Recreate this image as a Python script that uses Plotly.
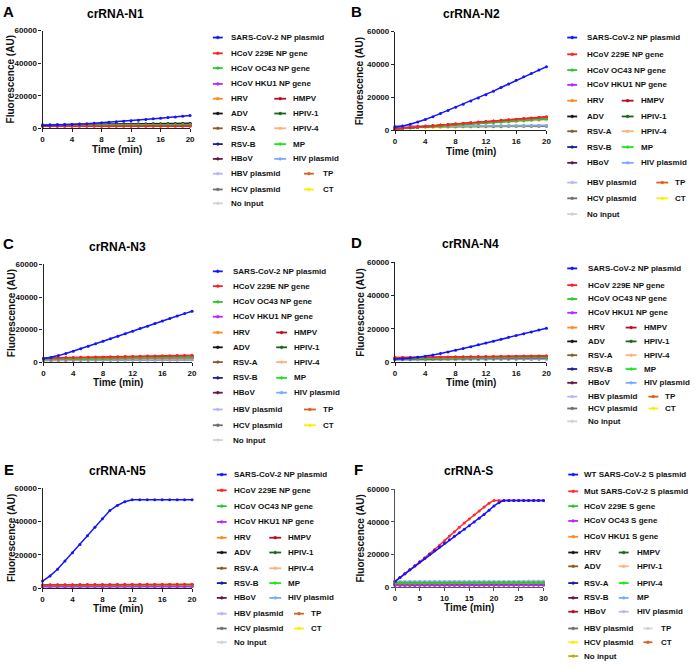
import plotly.graph_objects as go

W, H = 696, 668

TIME_20 = list(range(21))
TIME_30 = list(range(31))

NAMES_N = ["SARS-CoV-2 NP plasmid", "HCoV 229E NP gene", "HCoV OC43 NP gene", "HCoV HKU1 NP gene",
           "HRV", "HMPV", "ADV", "HPIV-1", "RSV-A", "HPIV-4", "RSV-B", "MP", "HBoV", "HIV plasmid",
           "HBV plasmid", "TP", "HCV plasmid", "CT", "No input"]
COLORS_N = ["#1414ff", "#ff1f1f", "#2fc62f", "#b42cff", "#ff8a1e", "#b01020", "#151515", "#1b641b",
            "#8c5a28", "#ffb07a", "#20208a", "#1ee61e", "#641846", "#78aaff", "#b4b4ff", "#d2641e",
            "#6e6e6e", "#ffec00", "#d2d2d2"]
NAMES_S = ["WT SARS-CoV-2 S plasmid", "Mut SARS-CoV-2 S plasmid", "HCoV 229E S gene", "HCoV OC43 S gene",
           "HCoV HKU1 S gene", "HRV", "HMPV", "ADV", "HPIV-1", "RSV-A", "HPIV-4", "RSV-B", "MP", "HBoV",
           "HIV plasmid", "HBV plasmid", "TP", "HCV plasmid", "CT", "No input"]
COLORS_S = ["#1414ff", "#ff2a2a", "#2fc62f", "#b42cff", "#ff8a1e", "#151515", "#1b641b", "#8c5a28",
            "#ffb07a", "#20208a", "#1ee61e", "#641846", "#78aaff", "#b01020", "#b4b4ff", "#6e6e6e",
            "#d2d2d2", "#ffec00", "#d2641e", "#b4b400"]

TICKS_20 = [0, 4, 8, 12, 16, 20]
TICKS_30 = [0, 5, 10, 15, 20, 25, 30]
Y_TICKS = [0, 20000, 40000, 60000]

# ---------------- Panel A: crRNA-N1 ----------------
A_SARS = [1800,1900,2000,2200,2400,2600,2800,3100,3400,3700,4000,4300,4700,5000,5400,5800,6200,6600,7000,7400,7900]
A_229E = [1200,1200,1200,1210,1210,1220,1220,1230,1230,1240,1240,1250,1250,1260,1260,1270,1270,1280,1280,1290,1300]
A_OC43 = [1800,1820,1850,1870,1900,1920,1950,1970,2000,2020,2050,2070,2100,2120,2150,2170,2200,2220,2250,2270,2300]
A_HKU1 = [1500,1510,1520,1530,1540,1550,1560,1570,1580,1590,1600,1610,1620,1630,1640,1650,1660,1670,1680,1690,1700]
A_HRV = [1700,1720,1730,1750,1760,1780,1790,1810,1820,1840,1850,1870,1880,1900,1910,1930,1940,1960,1970,1990,2000]
A_HMPV = [1600,1630,1660,1690,1720,1750,1780,1810,1840,1870,1900,1930,1960,1990,2020,2050,2080,2110,2140,2170,2200]
A_ADV = [2000,2050,2090,2140,2180,2230,2270,2320,2360,2410,2450,2500,2540,2590,2630,2680,2720,2770,2810,2860,2900]
A_HPIV1 = [1800,1840,1870,1910,1940,1980,2010,2050,2080,2120,2150,2190,2220,2260,2290,2330,2360,2400,2430,2470,2500]
A_RSVA = [1700,1730,1760,1790,1820,1850,1880,1910,1940,1970,2000,2030,2060,2090,2120,2150,2180,2210,2240,2270,2300]
A_HPIV4 = [1600,1620,1630,1650,1660,1680,1690,1710,1720,1740,1750,1770,1780,1800,1810,1830,1840,1860,1870,1890,1900]
A_RSVB = [1900,1940,1970,2010,2040,2080,2110,2150,2180,2220,2250,2290,2320,2360,2390,2430,2460,2500,2530,2570,2600]
A_MP = [1700,1730,1750,1780,1800,1830,1850,1880,1900,1930,1950,1980,2000,2030,2050,2080,2100,2130,2150,2180,2200]
A_HBOV = [1500,1530,1550,1580,1600,1630,1650,1680,1700,1730,1750,1780,1800,1830,1850,1880,1900,1930,1950,1980,2000]
A_HIV = [2000,2030,2060,2090,2120,2150,2180,2210,2240,2270,2300,2330,2360,2390,2420,2450,2480,2510,2540,2570,2600]
A_HBV = [2100,2140,2170,2210,2240,2280,2310,2350,2380,2420,2450,2490,2520,2560,2590,2630,2660,2700,2730,2770,2800]
A_TP = [1600,1630,1650,1680,1700,1730,1750,1780,1800,1830,1850,1880,1900,1930,1950,1980,2000,2030,2050,2080,2100]
A_HCV = [2200,2250,2290,2340,2380,2430,2470,2520,2560,2610,2650,2700,2740,2790,2830,2880,2920,2970,3010,3060,3100]
A_CT = [1400,1420,1430,1450,1460,1480,1490,1510,1520,1540,1550,1570,1580,1600,1610,1630,1640,1660,1670,1690,1700]
A_NI = [1300,1310,1320,1330,1340,1350,1360,1370,1380,1390,1400,1410,1420,1430,1440,1450,1460,1470,1480,1490,1500]

# ---------------- Panel B: crRNA-N2 ----------------
B_SARS = [2000,2600,3700,5000,6600,8300,10200,12100,14000,15900,17800,19700,21600,23800,26000,28200,30400,32500,34600,36600,38600]
B_229E = [1000,1360,1720,2080,2440,2800,3160,3520,3880,4240,4600,4960,5320,5680,6040,6400,6760,7120,7480,7840,8200]
B_OC43 = [1000,1300,1600,1900,2200,2500,2800,3100,3400,3700,4000,4300,4600,4900,5200,5500,5800,6100,6400,6700,7000]
B_HKU1 = [1000,1330,1660,1990,2320,2650,2980,3310,3640,3970,4300,4630,4960,5290,5620,5950,6280,6610,6940,7270,7600]
B_HRV = [1100,1430,1770,2100,2440,2770,3110,3440,3780,4110,4450,4780,5120,5450,5790,6120,6460,6790,7130,7460,7800]
B_HMPV = [1000,1350,1700,2050,2400,2750,3100,3450,3800,4150,4500,4850,5200,5550,5900,6250,6600,6950,7300,7650,8000]
B_ADV = [1000,1340,1680,2020,2360,2700,3040,3380,3720,4060,4400,4740,5080,5420,5760,6100,6440,6780,7120,7460,7800]
B_HPIV1 = [1000,1310,1620,1930,2240,2550,2860,3170,3480,3790,4100,4410,4720,5030,5340,5650,5960,6270,6580,6890,7200]
B_RSVA = [1100,1400,1700,2000,2300,2600,2900,3200,3500,3800,4100,4400,4700,5000,5300,5600,5900,6200,6500,6800,7100]
B_HPIV4 = [1200,1460,1720,1980,2240,2500,2760,3020,3280,3540,3800,4060,4320,4580,4840,5100,5360,5620,5880,6140,6400]
B_RSVB = [900,1230,1560,1890,2220,2550,2880,3210,3540,3870,4200,4530,4860,5190,5520,5850,6180,6510,6840,7170,7500]
B_MP = [1000,1290,1580,1870,2160,2450,2740,3030,3320,3610,3900,4190,4480,4770,5060,5350,5640,5930,6220,6510,6800]
B_HBOV = [1000,1320,1640,1960,2280,2600,2920,3240,3560,3880,4200,4520,4840,5160,5480,5800,6120,6440,6760,7080,7400]
B_HIV = [2400,2430,2450,2480,2500,2530,2550,2580,2600,2630,2650,2680,2700,2730,2750,2780,2800,2830,2850,2880,2900]
B_HBV = [2600,2630,2650,2680,2700,2730,2750,2780,2800,2830,2850,2880,2900,2930,2950,2980,3000,3030,3050,3080,3100]
B_TP = [1200,1490,1780,2070,2360,2650,2940,3230,3520,3810,4100,4390,4680,4970,5260,5550,5840,6130,6420,6710,7000]
B_HCV = [2000,2030,2050,2080,2100,2130,2150,2180,2200,2230,2250,2280,2300,2330,2350,2380,2400,2430,2450,2480,2500]
B_CT = [1500,1540,1580,1620,1660,1700,1740,1780,1820,1860,1900,1940,1980,2020,2060,2100,2140,2180,2220,2260,2300]
B_NI = [2200,2220,2240,2260,2280,2300,2320,2340,2360,2380,2400,2420,2440,2460,2480,2500,2520,2540,2560,2580,2600]

# ---------------- Panel C: crRNA-N3 ----------------
C_SARS = [2000,2800,4000,5300,6700,8200,9700,11300,12800,14400,15900,17400,19000,20600,22100,23700,25300,26800,28300,29800,31200]
C_229E = [2500,2590,2670,2760,2840,2930,3010,3100,3180,3270,3350,3440,3520,3610,3690,3780,3860,3950,4030,4120,4200]
C_OC43 = [1800,1880,1950,2030,2100,2180,2250,2330,2400,2480,2550,2630,2700,2780,2850,2930,3000,3080,3150,3230,3300]
C_HKU1 = [1900,1970,2030,2100,2160,2230,2290,2360,2420,2490,2550,2620,2680,2750,2810,2880,2940,3010,3070,3140,3200]
C_HRV = [1700,1760,1810,1870,1920,1980,2030,2090,2140,2200,2250,2310,2360,2420,2470,2530,2580,2640,2690,2750,2800]
C_HMPV = [2200,2280,2360,2440,2520,2600,2680,2760,2840,2920,3000,3080,3160,3240,3320,3400,3480,3560,3640,3720,3800]
C_ADV = [2000,2080,2150,2230,2300,2380,2450,2530,2600,2680,2750,2830,2900,2980,3050,3130,3200,3280,3350,3430,3500]
C_HPIV1 = [1900,1980,2050,2130,2200,2280,2350,2430,2500,2580,2650,2730,2800,2880,2950,3030,3100,3180,3250,3330,3400]
C_RSVA = [1600,1650,1700,1750,1800,1850,1900,1950,2000,2050,2100,2150,2200,2250,2300,2350,2400,2450,2500,2550,2600]
C_HPIV4 = [1500,1550,1590,1640,1680,1730,1770,1820,1860,1910,1950,2000,2040,2090,2130,2180,2220,2270,2310,2360,2400]
C_RSVB = [1800,1870,1930,2000,2060,2130,2190,2260,2320,2390,2450,2520,2580,2650,2710,2780,2840,2910,2970,3040,3100]
C_MP = [1900,1970,2040,2110,2180,2250,2320,2390,2460,2530,2600,2670,2740,2810,2880,2950,3020,3090,3160,3230,3300]
C_HBOV = [1700,1760,1820,1880,1940,2000,2060,2120,2180,2240,2300,2360,2420,2480,2540,2600,2660,2720,2780,2840,2900]
C_HIV = [1200,1220,1240,1260,1280,1300,1320,1340,1360,1380,1400,1420,1440,1460,1480,1500,1520,1540,1560,1580,1600]
C_HBV = [1300,1320,1340,1360,1380,1400,1420,1440,1460,1480,1500,1520,1540,1560,1580,1600,1620,1640,1660,1680,1700]
C_TP = [1600,1650,1690,1740,1780,1830,1870,1920,1960,2010,2050,2100,2140,2190,2230,2280,2320,2370,2410,2460,2500]
C_HCV = [1000,1020,1040,1060,1080,1100,1120,1140,1160,1180,1200,1220,1240,1260,1280,1300,1320,1340,1360,1380,1400]
C_CT = [1400,1430,1460,1490,1520,1550,1580,1610,1640,1670,1700,1730,1760,1790,1820,1850,1880,1910,1940,1970,2000]
C_NI = [1100,1120,1140,1160,1180,1200,1220,1240,1260,1280,1300,1320,1340,1360,1380,1400,1420,1440,1460,1480,1500]

# ---------------- Panel D: crRNA-N4 ----------------
D_SARS = [1800,2000,2400,2900,3500,4300,5200,6100,7100,8200,9300,10400,11500,12600,13700,14900,16000,17100,18200,19300,20400]
D_229E = [2800,2850,2900,2950,3000,3050,3100,3150,3200,3250,3300,3350,3400,3450,3500,3550,3600,3650,3700,3750,3800]
D_OC43 = [2000,2050,2100,2150,2200,2250,2300,2350,2400,2450,2500,2550,2600,2650,2700,2750,2800,2850,2900,2950,3000]
D_HKU1 = [2100,2140,2180,2220,2260,2300,2340,2380,2420,2460,2500,2540,2580,2620,2660,2700,2740,2780,2820,2860,2900]
D_HRV = [2200,2240,2280,2320,2360,2400,2440,2480,2520,2560,2600,2640,2680,2720,2760,2800,2840,2880,2920,2960,3000]
D_HMPV = [2600,2650,2700,2750,2800,2850,2900,2950,3000,3050,3100,3150,3200,3250,3300,3350,3400,3450,3500,3550,3600]
D_ADV = [1950,2000,2050,2100,2150,2200,2250,2300,2350,2400,2450,2500,2550,2600,2650,2700,2750,2800,2850,2900,2950]
D_HPIV1 = [2100,2150,2200,2250,2300,2350,2400,2450,2500,2550,2600,2650,2700,2750,2800,2850,2900,2950,3000,3050,3100]
D_RSVA = [1900,1940,1980,2020,2060,2100,2140,2180,2220,2260,2300,2340,2380,2420,2460,2500,2540,2580,2620,2660,2700]
D_HPIV4 = [1800,1840,1880,1920,1960,2000,2040,2080,2120,2160,2200,2240,2280,2320,2360,2400,2440,2480,2520,2560,2600]
D_RSVB = [2000,2040,2080,2120,2160,2200,2240,2280,2320,2360,2400,2440,2480,2520,2560,2600,2640,2680,2720,2760,2800]
D_MP = [2100,2150,2190,2240,2280,2330,2370,2420,2460,2510,2550,2600,2640,2690,2730,2780,2820,2870,2910,2960,3000]
D_HBOV = [1850,1890,1930,1970,2010,2050,2090,2130,2170,2210,2250,2290,2330,2370,2410,2450,2490,2530,2570,2610,2650]
D_HIV = [1500,1520,1540,1560,1580,1600,1620,1640,1660,1680,1700,1720,1740,1760,1780,1800,1820,1840,1860,1880,1900]
D_HBV = [1600,1620,1640,1660,1680,1700,1720,1740,1760,1780,1800,1820,1840,1860,1880,1900,1920,1940,1960,1980,2000]
D_TP = [2050,2090,2130,2170,2210,2250,2290,2330,2370,2410,2450,2490,2530,2570,2610,2650,2690,2730,2770,2810,2850]
D_HCV = [1400,1420,1440,1460,1480,1500,1520,1540,1560,1580,1600,1620,1640,1660,1680,1700,1720,1740,1760,1780,1800]
D_CT = [1800,1830,1860,1890,1920,1950,1980,2010,2040,2070,2100,2130,2160,2190,2220,2250,2280,2310,2340,2370,2400]
D_NI = [1550,1570,1590,1610,1630,1650,1670,1690,1710,1730,1750,1770,1790,1810,1830,1850,1870,1890,1910,1930,1950]

# ---------------- Panel E: crRNA-N5 ----------------
E_SARS = [4200,7300,11300,16300,21300,26200,31400,36600,41700,46700,49700,52000,53200,53200,53200,53200,53200,53200,53200,53200,53200]
E_229E = [2000,2010,2020,2030,2040,2050,2060,2070,2080,2090,2100,2110,2120,2130,2140,2150,2160,2170,2180,2190,2200]
E_OC43 = [1600,1610,1620,1630,1640,1650,1660,1670,1680,1690,1700,1710,1720,1730,1740,1750,1760,1770,1780,1790,1800]
E_HKU1 = [700,705,710,715,720,725,730,735,740,745,750,755,760,765,770,775,780,785,790,795,800]
E_HRV = [1500,1510,1520,1530,1540,1550,1560,1570,1580,1590,1600,1610,1620,1630,1640,1650,1660,1670,1680,1690,1700]
E_HMPV = [1800,1810,1820,1830,1840,1850,1860,1870,1880,1890,1900,1910,1920,1930,1940,1950,1960,1970,1980,1990,2000]
E_ADV = [1550,1560,1570,1580,1590,1600,1610,1620,1630,1640,1650,1660,1670,1680,1690,1700,1710,1720,1730,1740,1750]
E_HPIV1 = [1400,1410,1420,1430,1440,1450,1460,1470,1480,1490,1500,1510,1520,1530,1540,1550,1560,1570,1580,1590,1600]
E_RSVA = [1300,1310,1320,1330,1340,1350,1360,1370,1380,1390,1400,1410,1420,1430,1440,1450,1460,1470,1480,1490,1500]
E_HPIV4 = [1200,1210,1220,1230,1240,1250,1260,1270,1280,1290,1300,1310,1320,1330,1340,1350,1360,1370,1380,1390,1400]
E_RSVB = [1650,1660,1670,1680,1690,1700,1710,1720,1730,1740,1750,1760,1770,1780,1790,1800,1810,1820,1830,1840,1850]
E_MP = [1450,1460,1470,1480,1490,1500,1510,1520,1530,1540,1550,1560,1570,1580,1590,1600,1610,1620,1630,1640,1650]
E_HBOV = [1100,1110,1120,1130,1140,1150,1160,1170,1180,1190,1200,1210,1220,1230,1240,1250,1260,1270,1280,1290,1300]
E_HIV = [1000,1010,1020,1030,1040,1050,1060,1070,1080,1090,1100,1110,1120,1130,1140,1150,1160,1170,1180,1190,1200]
E_HBV = [1050,1060,1070,1080,1090,1100,1110,1120,1130,1140,1150,1160,1170,1180,1190,1200,1210,1220,1230,1240,1250]
E_TP = [1350,1360,1370,1380,1390,1400,1410,1420,1430,1440,1450,1460,1470,1480,1490,1500,1510,1520,1530,1540,1550]
E_HCV = [1250,1260,1270,1280,1290,1300,1310,1320,1330,1340,1350,1360,1370,1380,1390,1400,1410,1420,1430,1440,1450]
E_CT = [1150,1160,1170,1180,1190,1200,1210,1220,1230,1240,1250,1260,1270,1280,1290,1300,1310,1320,1330,1340,1350]
E_NI = [900,910,920,930,940,950,960,970,980,990,1000,1010,1020,1030,1040,1050,1060,1070,1080,1090,1100]

# ---------------- Panel F: crRNA-S ----------------
F_WT = [3500,5800,8200,10600,13000,15400,17700,20000,22300,24600,26900,29000,31200,33300,35500,37700,39900,42200,44600,47200,49800,51800,53200,53200,53200,53200,53200,53200,53200,53200,53200]
F_MUT = [3500,5800,8200,10600,13100,15500,17900,20400,23000,25700,28500,31300,34000,36700,39300,41800,44300,46700,49200,51500,53200,53200,53200,53200,53200,53200,53200,53200,53200,53200,53200]
F_229E = [2500,2510,2510,2520,2520,2530,2530,2540,2540,2550,2550,2560,2560,2570,2570,2580,2580,2590,2590,2600,2600,2610,2610,2620,2620,2630,2630,2640,2640,2650,2650]
F_OC43 = [1000,1010,1010,1020,1020,1030,1030,1040,1040,1050,1050,1060,1060,1070,1070,1080,1080,1090,1090,1100,1100,1110,1110,1120,1120,1130,1130,1140,1140,1150,1150]
F_HKU1 = [2000,2010,2010,2020,2020,2030,2030,2040,2040,2050,2050,2060,2060,2070,2070,2080,2080,2090,2090,2100,2100,2110,2110,2120,2120,2130,2130,2140,2140,2150,2150]
F_HRV = [1800,1810,1810,1820,1820,1830,1830,1840,1840,1850,1850,1860,1860,1870,1870,1880,1880,1890,1890,1900,1900,1910,1910,1920,1920,1930,1930,1940,1940,1950,1950]
F_HMPV = [2300,2310,2310,2320,2320,2330,2330,2340,2340,2350,2350,2360,2360,2370,2370,2380,2380,2390,2390,2400,2400,2410,2410,2420,2420,2430,2430,2440,2440,2450,2450]
F_ADV = [1850,1860,1860,1870,1870,1880,1880,1890,1890,1900,1900,1910,1910,1920,1920,1930,1930,1940,1940,1950,1950,1960,1960,1970,1970,1980,1980,1990,1990,2000,2000]
F_HPIV1 = [2050,2060,2060,2070,2070,2080,2080,2090,2090,2100,2100,2110,2110,2120,2120,2130,2130,2140,2140,2150,2150,2160,2160,2170,2170,2180,2180,2190,2190,2200,2200]
F_RSVA = [2100,2110,2110,2120,2120,2130,2130,2140,2140,2150,2150,2160,2160,2170,2170,2180,2180,2190,2190,2200,2200,2210,2210,2220,2220,2230,2230,2240,2240,2250,2250]
F_HPIV4 = [2600,2610,2610,2620,2620,2630,2630,2640,2640,2650,2650,2660,2660,2670,2670,2680,2680,2690,2690,2700,2700,2710,2710,2720,2720,2730,2730,2740,2740,2750,2750]
F_RSVB = [1200,1210,1210,1220,1220,1230,1230,1240,1240,1250,1250,1260,1260,1270,1270,1280,1280,1290,1290,1300,1300,1310,1310,1320,1320,1330,1330,1340,1340,1350,1350]
F_MP = [3000,3010,3010,3020,3020,3030,3030,3040,3040,3050,3050,3060,3060,3070,3070,3080,3080,3090,3090,3100,3100,3110,3110,3120,3120,3130,3130,3140,3140,3150,3150]
F_HBOV = [1500,1510,1510,1520,1520,1530,1530,1540,1540,1550,1550,1560,1560,1570,1570,1580,1580,1590,1590,1600,1600,1610,1610,1620,1620,1630,1630,1640,1640,1650,1650]
F_HIV = [3500,3510,3510,3520,3520,3530,3530,3540,3540,3550,3550,3560,3560,3570,3570,3580,3580,3590,3590,3600,3600,3610,3610,3620,3620,3630,3630,3640,3640,3650,3650]
F_HBV = [1700,1710,1710,1720,1720,1730,1730,1740,1740,1750,1750,1760,1760,1770,1770,1780,1780,1790,1790,1800,1800,1810,1810,1820,1820,1830,1830,1840,1840,1850,1850]
F_TP = [3200,3210,3210,3220,3220,3230,3230,3240,3240,3250,3250,3260,3260,3270,3270,3280,3280,3290,3290,3300,3300,3310,3310,3320,3320,3330,3330,3340,3340,3350,3350]
F_HCV = [1600,1610,1610,1620,1620,1630,1630,1640,1640,1650,1650,1660,1660,1670,1670,1680,1680,1690,1690,1700,1700,1710,1710,1720,1720,1730,1730,1740,1740,1750,1750]
F_CT = [1900,1910,1910,1920,1920,1930,1930,1940,1940,1950,1950,1960,1960,1970,1970,1980,1980,1990,1990,2000,2000,2010,2010,2020,2020,2030,2030,2040,2040,2050,2050]
F_NI = [1400,1410,1410,1420,1420,1430,1430,1440,1440,1450,1450,1460,1460,1470,1470,1480,1480,1490,1490,1500,1500,1510,1510,1520,1520,1530,1530,1540,1540,1550,1550]

PANEL_DATA = [
    dict(letter="A", title="crRNA-N1", time=TIME_20, xticks=TICKS_20, names=NAMES_N, colors=COLORS_N,
         series=[A_SARS, A_229E, A_OC43, A_HKU1, A_HRV, A_HMPV, A_ADV, A_HPIV1, A_RSVA, A_HPIV4,
                 A_RSVB, A_MP, A_HBOV, A_HIV, A_HBV, A_TP, A_HCV, A_CT, A_NI]),
    dict(letter="B", title="crRNA-N2", time=TIME_20, xticks=TICKS_20, names=NAMES_N, colors=COLORS_N,
         series=[B_SARS, B_229E, B_OC43, B_HKU1, B_HRV, B_HMPV, B_ADV, B_HPIV1, B_RSVA, B_HPIV4,
                 B_RSVB, B_MP, B_HBOV, B_HIV, B_HBV, B_TP, B_HCV, B_CT, B_NI]),
    dict(letter="C", title="crRNA-N3", time=TIME_20, xticks=TICKS_20, names=NAMES_N, colors=COLORS_N,
         series=[C_SARS, C_229E, C_OC43, C_HKU1, C_HRV, C_HMPV, C_ADV, C_HPIV1, C_RSVA, C_HPIV4,
                 C_RSVB, C_MP, C_HBOV, C_HIV, C_HBV, C_TP, C_HCV, C_CT, C_NI]),
    dict(letter="D", title="crRNA-N4", time=TIME_20, xticks=TICKS_20, names=NAMES_N, colors=COLORS_N,
         series=[D_SARS, D_229E, D_OC43, D_HKU1, D_HRV, D_HMPV, D_ADV, D_HPIV1, D_RSVA, D_HPIV4,
                 D_RSVB, D_MP, D_HBOV, D_HIV, D_HBV, D_TP, D_HCV, D_CT, D_NI]),
    dict(letter="E", title="crRNA-N5", time=TIME_20, xticks=TICKS_20, names=NAMES_N, colors=COLORS_N,
         series=[E_SARS, E_229E, E_OC43, E_HKU1, E_HRV, E_HMPV, E_ADV, E_HPIV1, E_RSVA, E_HPIV4,
                 E_RSVB, E_MP, E_HBOV, E_HIV, E_HBV, E_TP, E_HCV, E_CT, E_NI]),
    dict(letter="F", title="crRNA-S", time=TIME_30, xticks=TICKS_30, names=NAMES_S, colors=COLORS_S,
         series=[F_WT, F_MUT, F_229E, F_OC43, F_HKU1, F_HRV, F_HMPV, F_ADV, F_HPIV1, F_RSVA, F_HPIV4,
                 F_RSVB, F_MP, F_HBOV, F_HIV, F_HBV, F_TP, F_HCV, F_CT, F_NI]),
]

# ---------------- layout (pixel positions) ----------------
PANEL_POS = [
    dict(ax=(41, 190), ay=(27, 126), letter=(7, 8), title=(115, 10), xtitle=(116, 147), ytitle=9,
         rows=[34, 50, 65, 81, 96, 111, 126, 142, 157, 172, 188, 202],
         c1=(213, 223, 229), c2=(275, 287, 292), c3=(305, 315, 322), singles=4, axcol="#222222"),
    dict(ax=(397, 550), ay=(28, 128), letter=(358, 8), title=(474, 10), xtitle=(474, 150), ytitle=362,
         rows=[34, 51, 67, 82, 98, 114, 129, 145, 161, 181, 197, 213],
         c1=(571, 581, 589), c2=(626, 638, 643), c3=(661, 673, 678), singles=4, axcol="#222222"),
    dict(ax=(42, 192), ay=(264, 363), letter=(7, 243), title=(117, 246), xtitle=(117, 384), ytitle=9,
         rows=[271, 286, 302, 317, 333, 348, 363, 379, 394, 411, 427, 442],
         c1=(213, 223, 231), c2=(277, 288, 293), c3=(305, 317, 322), singles=4, axcol="#222222"),
    dict(ax=(397, 550), ay=(262, 363), letter=(358, 242), title=(473, 243), xtitle=(474, 384), ytitle=362,
         rows=[268, 285, 299, 313, 328, 342, 356, 370, 384, 398, 410, 423],
         c1=(571, 581, 590), c2=(630, 641, 647), c3=(653, 663, 668), singles=4, axcol="#222222"),
    dict(ax=(41, 192), ay=(491, 592), letter=(7, 472), title=(117, 473), xtitle=(117, 613), ytitle=9,
         rows=[477, 493, 509, 525, 541, 556, 572, 587, 602, 618, 633, 647],
         c1=(217, 227, 232), c2=(270, 282, 287), c3=(295, 305, 310), singles=4, axcol="#222222"),
    dict(ax=(397, 547), ay=(492, 591), letter=(360, 472), title=(471, 473), xtitle=(472, 612), ytitle=362,
         rows=[477, 494, 509, 524, 540, 556, 570, 587, 602, 616, 633, 647, 661],
         c1=(572, 582, 586), c2=(623, 633, 639), c3=(648, 657, 664), singles=5, axcol="#555555"),
]

FONT = "Liberation Sans, Arial, sans-serif"
LEGEND_SIZE = 8


def px(x):
    return x / W


def py(y):
    return 1 - y / H


fig = go.Figure()
layout = dict(width=W, height=H, margin=dict(l=0, r=0, t=0, b=0),
              paper_bgcolor="white", plot_bgcolor="white", showlegend=False,
              font=dict(family=FONT, color="#111111"))
shapes = []
annotations = []

for i, (pdata, pos) in enumerate(zip(PANEL_DATA, PANEL_POS)):
    k = "" if i == 0 else str(i + 1)
    xref, yref = "x" + k, "y" + k
    n = len(pdata["series"])
    # draw so that first series is on top
    for j in reversed(range(n)):
        fig.add_trace(go.Scatter(
            x=pdata["time"], y=pdata["series"][j], name=pdata["names"][j], mode="lines+markers",
            line=dict(color=pdata["colors"][j], width=1.5),
            marker=dict(color=pdata["colors"][j], size=3, symbol="circle"),
            xaxis=xref, yaxis=yref, cliponaxis=False, hoverinfo="name+x+y"))
    xmax = pdata["time"][-1]
    axis_common = dict(showgrid=False, zeroline=False, showline=True, linecolor=pos["axcol"], linewidth=1.3,
                       ticks="outside", ticklen=3, tickwidth=1.2, tickcolor=pos["axcol"],
                       tickfont=dict(family=FONT, size=8, color="#111111", weight="bold"))
    layout["xaxis" + k] = dict(domain=[px(pos["ax"][0]), px(pos["ax"][1])], range=[0, xmax],
                               tickvals=pdata["xticks"], anchor=yref, **axis_common)
    layout["yaxis" + k] = dict(domain=[py(pos["ay"][1]), py(pos["ay"][0])], range=[0, 60000],
                               tickvals=Y_TICKS, ticktext=[str(v) for v in Y_TICKS], anchor=xref,
                               **axis_common)
    # panel letter, title, axis titles
    annotations.append(dict(text="<b>%s</b>" % pdata["letter"], x=px(pos["letter"][0]), y=py(pos["letter"][1]),
                            xref="paper", yref="paper", xanchor="center", yanchor="middle", showarrow=False,
                            font=dict(size=15, family=FONT, color="#000000")))
    annotations.append(dict(text="<b>%s</b>" % pdata["title"], x=px(pos["title"][0]), y=py(pos["title"][1]),
                            xref="paper", yref="paper", xanchor="center", yanchor="middle", showarrow=False,
                            font=dict(size=12, family=FONT, color="#000000")))
    annotations.append(dict(text="<b>Time (min)</b>", x=px(pos["xtitle"][0]), y=py(pos["xtitle"][1]),
                            xref="paper", yref="paper", xanchor="center", yanchor="middle", showarrow=False,
                            font=dict(size=10, family=FONT, color="#111111")))
    annotations.append(dict(text="<b>Fluorescence (AU)</b>", x=px(pos["ytitle"]),
                            y=py((pos["ay"][0] + pos["ay"][1]) / 2), textangle=-90,
                            xref="paper", yref="paper", xanchor="center", yanchor="middle", showarrow=False,
                            font=dict(size=10, family=FONT, color="#111111")))
    # legend: singles on own rows, then pairs
    slots = []
    s = pos["singles"]
    for j in range(s):
        slots.append((j, pos["rows"][j], pos["c1"]))
    rest = list(range(s, n))
    r = s
    pair_idx = 0
    while rest:
        left = rest.pop(0)
        slots.append((left, pos["rows"][r], pos["c1"]))
        if rest:
            right = rest.pop(0)
            col = pos["c2"] if pair_idx < 5 else pos["c3"]
            slots.append((right, pos["rows"][r], col))
        pair_idx += 1
        r += 1
    for j, yrow, col in slots:
        color = pdata["colors"][j]
        shapes.append(dict(type="line", xref="paper", yref="paper", x0=px(col[0]), x1=px(col[1]),
                           y0=py(yrow), y1=py(yrow), line=dict(color=color, width=1.8)))
        cx = (col[0] + col[1]) / 2
        shapes.append(dict(type="circle", xref="paper", yref="paper", x0=px(cx - 1.4), x1=px(cx + 1.4),
                           y0=py(yrow + 1.4), y1=py(yrow - 1.4), line=dict(color=color, width=0.5),
                           fillcolor=color))
        annotations.append(dict(text="<b>%s</b>" % pdata["names"][j], x=px(col[2]), y=py(yrow),
                                xref="paper", yref="paper", xanchor="left", yanchor="middle", showarrow=False,
                                font=dict(size=LEGEND_SIZE, family=FONT, color="#111111")))

layout["shapes"] = shapes
layout["annotations"] = annotations
fig.update_layout(**layout)
fig.write_html("out.html", config={"displayModeBar": False},
               post_script="document.body.style.margin='0px';document.body.style.padding='0px';")
